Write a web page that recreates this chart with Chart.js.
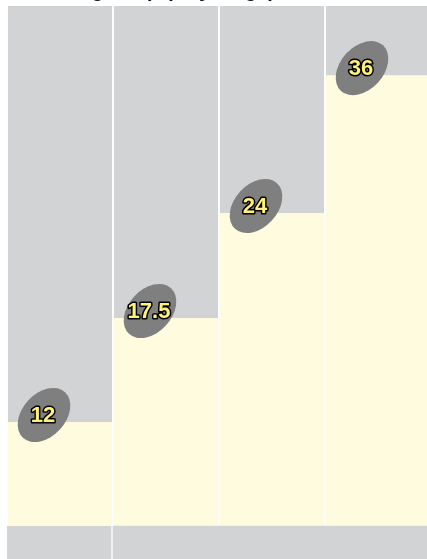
<!DOCTYPE html>
<html>
<head>
<meta charset="utf-8">
<script src="https://cdn.jsdelivr.net/npm/chart.js@4.4.1/dist/chart.umd.min.js"></script>
<style>
  html, body { margin: 0; padding: 0; background: #fff; overflow: hidden; width: 427px; height: 559px; }
  #wrap { position: absolute; left: 0; top: -30px; width: 431px; height: 608px; }
</style>
</head>
<body>
<div id="wrap"><canvas id="chart"></canvas></div>
<script>
// data
const categories = ['A', 'B', 'C', 'D'];
const values = [12, 17.5, 24, 36];          // label values
const levels = [20, 40, 60.2, 86.7];        // yellow bar heights (% of panel)
const panelMax = 100;
const panelMin = -10;

const gray = '#d2d3d5';
const yellow = '#fffbdf';

// ellipse labels above each yellow bar
const ellipseLabels = {
    id: 'ellipseLabels',
    afterDatasetsDraw(chart) {
        const ctx = chart.ctx;
        const meta = chart.getDatasetMeta(1);
        meta.data.forEach((bar, i) => {
            const cx = bar.x - 16;
            const cy = bar.y - 7;
            ctx.save();
            ctx.translate(cx, cy);
            ctx.rotate(-Math.PI / 3.8);
            ctx.beginPath();
            ctx.ellipse(0, 0, 31, 21.5, 0, 0, Math.PI * 2);
            ctx.fillStyle = '#7f7f7f';
            ctx.fill();
            ctx.restore();

            ctx.save();
            ctx.font = 'bold 22px "Liberation Sans", Arial, sans-serif';
            ctx.textAlign = 'center';
            ctx.textBaseline = 'middle';
            ctx.lineJoin = 'round';
            ctx.lineWidth = 3;
            ctx.strokeStyle = '#000';
            ctx.strokeText(String(values[i]), cx - 1, cy + 1);
            ctx.fillStyle = '#fff27a';
            ctx.fillText(String(values[i]), cx - 1, cy + 1);
            ctx.restore();
        });
    }
};

new Chart(document.getElementById('chart'), {
    type: 'bar',
    data: {
        labels: categories,
        datasets: [
            {
                // gray panel behind each bar
                data: categories.map(() => [0, panelMax]),
                backgroundColor: gray,
                barPercentage: 0.982,
                categoryPercentage: 1,
                grouped: false,
                order: 3
            },
            {
                data: levels,
                backgroundColor: yellow,
                barPercentage: 0.982,
                categoryPercentage: 1,
                grouped: false,
                order: 2
            },
            {
                // gray strip below the baseline
                data: categories.map(() => [panelMin, 0]),
                backgroundColor: gray,
                borderColor: '#fff',
                borderWidth: (c) => c.dataIndex === 0 ? { top: 0, left: 0, bottom: 0, right: 2 } : 0,
                borderSkipped: false,
                barPercentage: 1,
                categoryPercentage: 1,
                grouped: false,
                order: 1
            }
        ]
    },
    options: {
        responsive: true,
        maintainAspectRatio: false,
        animation: false,
        layout: { padding: { left: 7, right: 0, top: 0, bottom: 0 } },
        plugins: {
            legend: { display: false },
            tooltip: { enabled: false },
            title: {
                display: true,
                text: 'Percentage of (%), by stage)',
                align: 'start',
                color: '#111',
                font: { size: 20, weight: 'bold', family: '"Liberation Sans", Arial, sans-serif' },
                padding: { top: 9, bottom: 3 }
            }
        },
        scales: {
            x: { display: false, offset: true },
            y: { display: false, min: panelMin, max: panelMax }
        }
    },
    plugins: [ellipseLabels]
});
</script>
</body>
</html>
